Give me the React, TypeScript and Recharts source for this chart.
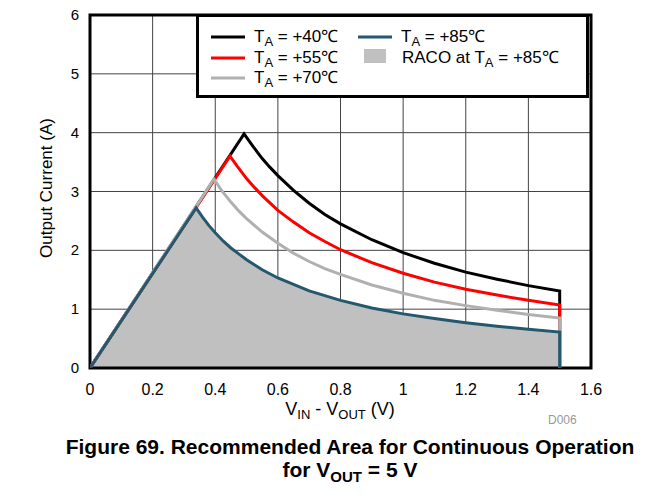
import {
  ComposedChart,
  Line,
  Area,
  CartesianGrid,
  XAxis,
  YAxis,
  ReferenceArea,
} from "recharts";

// V_IN - V_OUT (V) and output current (A)
const vin40 = [0, 0.492, 0.52, 0.55, 0.575, 0.6, 0.65, 0.7, 0.75, 0.8, 0.9, 1.0, 1.1, 1.2, 1.3, 1.4, 1.5, 1.5];
const amps40 = [0, 3.98, 3.77, 3.56, 3.41, 3.27, 3.02, 2.8, 2.61, 2.45, 2.18, 1.96, 1.78, 1.63, 1.51, 1.4, 1.31, 0];

const vin55 = [0, 0.447, 0.47, 0.5, 0.525, 0.55, 0.6, 0.65, 0.7, 0.75, 0.8, 0.9, 1.0, 1.1, 1.2, 1.3, 1.4, 1.5, 1.5];
const amps55 = [0, 3.6, 3.43, 3.22, 3.07, 2.93, 2.68, 2.48, 2.3, 2.15, 2.01, 1.79, 1.61, 1.46, 1.34, 1.24, 1.15, 1.07, 0];

const vin70 = [0, 0.396, 0.42, 0.45, 0.475, 0.5, 0.55, 0.6, 0.65, 0.7, 0.75, 0.8, 0.9, 1.0, 1.1, 1.2, 1.3, 1.4, 1.5, 1.5];
const amps70 = [0, 3.21, 3.02, 2.82, 2.67, 2.54, 2.31, 2.12, 1.95, 1.81, 1.69, 1.59, 1.41, 1.27, 1.15, 1.06, 0.98, 0.91, 0.85, 0];

const vin85 = [0, 0.339, 0.36, 0.38, 0.4, 0.425, 0.45, 0.475, 0.5, 0.55, 0.6, 0.65, 0.7, 0.75, 0.8, 0.9, 1.0, 1.1, 1.2, 1.3, 1.4, 1.5, 1.5];
const amps85 = [0, 2.72, 2.56, 2.42, 2.3, 2.16, 2.04, 1.94, 1.84, 1.67, 1.53, 1.42, 1.31, 1.23, 1.15, 1.02, 0.92, 0.84, 0.77, 0.71, 0.66, 0.61, 0];

const xTicks = [0, 0.2, 0.4, 0.6, 0.8, 1, 1.2, 1.4, 1.6];
const yTicks = [0, 1, 2, 3, 4, 5, 6];

const legendTemps = ["+40℃", "+55℃", "+70℃", "+85℃"];

const toRows = (xs: number[], ys: number[]) => xs.map((x, i) => ({ x, y: ys[i] }));

const FONT = "'Liberation Sans', Arial, sans-serif";
const C40 = "#000000";
const C55 = "#ff0000";
const C70 = "#b0b0b0";
const C85 = "#24586f";
const RACO = "#c0c0c0";

function XTick(props: any) {
  const { x, y, payload } = props;
  return (
    <text x={x} y={y + 19} textAnchor="middle" fontSize={16} fontFamily={FONT} fill="#000">
      {String(payload.value)}
    </text>
  );
}

function YTick(props: any) {
  const { x, y, payload } = props;
  return (
    <text x={x - 3} y={y + 5} textAnchor="end" fontSize={15} fontFamily={FONT} fill="#000">
      {String(payload.value)}
    </text>
  );
}

function Swatch({ color }: { color: string }) {
  return (
    <svg width={34} height={6} style={{ position: "absolute", left: 0, top: 7 }}>
      <line x1={0} y1={3} x2={34} y2={3} stroke={color} strokeWidth={3} />
    </svg>
  );
}

function TaText({ temp }: { temp: string }) {
  return (
    <span>
      T<sub style={{ fontSize: 13, verticalAlign: -4 }}>A</sub> = {temp}
    </span>
  );
}

function LegendItem({ left, top, color, temp }: { left: number; top: number; color: string; temp: string }) {
  return (
    <div style={{ position: "absolute", left, top, height: 20, width: 170 }}>
      <Swatch color={color} />
      <div style={{ position: "absolute", left: 43, top: 0, lineHeight: "20px", whiteSpace: "nowrap" }}>
        <TaText temp={temp} />
      </div>
    </div>
  );
}

export default function App() {
  return (
    <div style={{ position: "absolute", left: 0, top: 0, width: 669, height: 502, background: "#fff", fontFamily: FONT }}>
      <ComposedChart
        width={669}
        height={430}
        margin={{ top: 15, right: 78, bottom: 22, left: 30 }}
      >
        <CartesianGrid stroke="#444" strokeWidth={1} horizontalValues={yTicks} verticalValues={xTicks} />
        <XAxis
          type="number"
          dataKey="x"
          domain={[0, 1.6]}
          ticks={xTicks}
          allowDataOverflow
          axisLine={false}
          tickLine={false}
          height={40}
          tick={<XTick />}
        />
        <YAxis
          type="number"
          dataKey="y"
          domain={[0, 6]}
          ticks={yTicks}
          allowDataOverflow
          axisLine={false}
          tickLine={false}
          width={60}
          tick={<YTick />}
        />
        <Area
          data={toRows(vin85, amps85)}
          dataKey="y"
          type="linear"
          fill={RACO}
          fillOpacity={1}
          stroke="none"
          isAnimationActive={false}
        />
        <Line data={toRows(vin40, amps40)} dataKey="y" type="linear" stroke={C40} strokeWidth={3} dot={false} isAnimationActive={false} />
        <Line data={toRows(vin55, amps55)} dataKey="y" type="linear" stroke={C55} strokeWidth={3} dot={false} isAnimationActive={false} />
        <Line data={toRows(vin70, amps70)} dataKey="y" type="linear" stroke={C70} strokeWidth={3} dot={false} isAnimationActive={false} />
        <Line data={toRows(vin85, amps85)} dataKey="y" type="linear" stroke={C85} strokeWidth={3} dot={false} isAnimationActive={false} />
        <ReferenceArea x1={0} x2={1.6} y1={0} y2={6} fill="none" stroke="#000" strokeWidth={3} ifOverflow="visible" />
      </ComposedChart>

      {/* y axis title */}
      <div
        style={{
          position: "absolute",
          left: 47,
          top: 188,
          transform: "translate(-50%, -50%) rotate(-90deg)",
          fontSize: 17,
          whiteSpace: "nowrap",
        }}
      >
        Output Current (A)
      </div>

      {/* x axis title */}
      <div
        style={{
          position: "absolute",
          left: 340,
          top: 410,
          transform: "translate(-50%, -50%)",
          fontSize: 18,
          whiteSpace: "nowrap",
        }}
      >
        V<sub style={{ fontSize: 13, verticalAlign: -4 }}>IN</sub> - V<sub style={{ fontSize: 13, verticalAlign: -4 }}>OUT</sub> (V)
      </div>

      <div style={{ position: "absolute", left: 548, top: 413, fontSize: 12, color: "#999" }}>D006</div>

      {/* legend */}
      <div
        style={{
          position: "absolute",
          left: 196,
          top: 14,
          width: 393,
          height: 84,
          border: "3px solid #000",
          boxSizing: "border-box",
          background: "#fff",
          fontSize: 17,
        }}
      >
        <LegendItem left={12} top={10} color={C40} temp={legendTemps[0]} />
        <LegendItem left={12} top={31} color={C55} temp={legendTemps[1]} />
        <LegendItem left={12} top={51} color={C70} temp={legendTemps[2]} />
        <LegendItem left={159} top={10} color={C85} temp={legendTemps[3]} />
        <div style={{ position: "absolute", left: 165, top: 31, width: 200, height: 20 }}>
          <div style={{ position: "absolute", left: 0, top: 1, width: 22, height: 14, background: RACO }} />
          <div style={{ position: "absolute", left: 38, top: 0, lineHeight: "20px", whiteSpace: "nowrap" }}>
            RACO at <TaText temp={legendTemps[3]} />
          </div>
        </div>
      </div>

      {/* caption */}
      <div
        style={{
          position: "absolute",
          left: 0,
          top: 435,
          width: 700,
          textAlign: "center",
          fontWeight: "bold",
          fontSize: 21,
          lineHeight: "23px",
        }}
      >
        Figure 69. Recommended Area for Continuous Operation
        <br />
        for V<sub style={{ fontSize: 15, verticalAlign: -5 }}>OUT</sub> = 5 V
      </div>
    </div>
  );
}
